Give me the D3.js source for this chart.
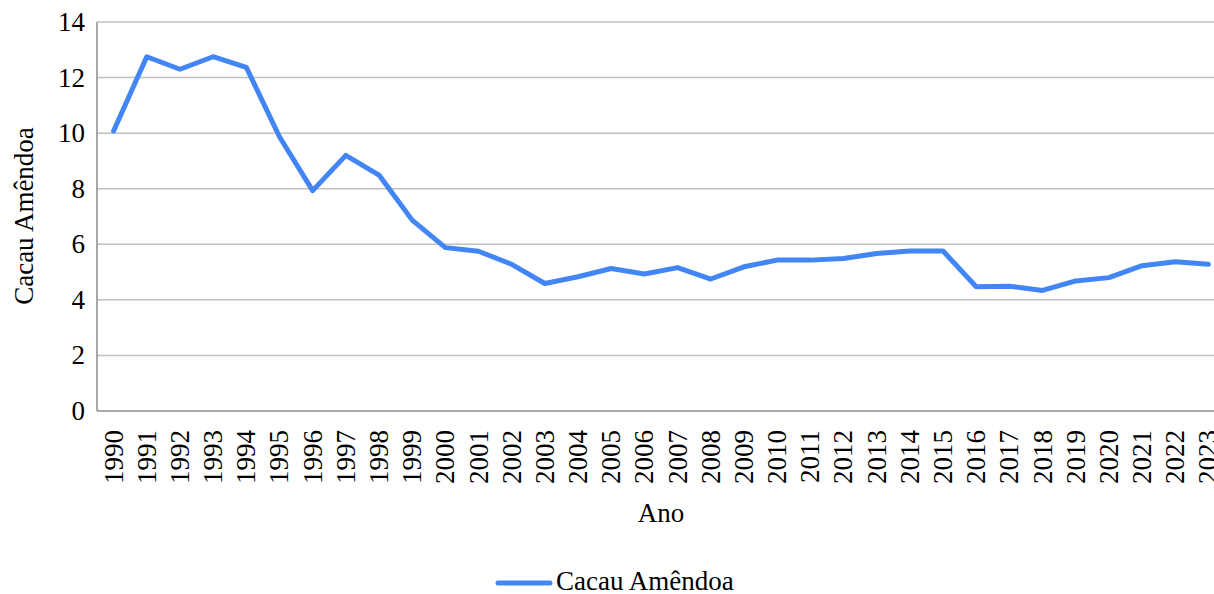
<!DOCTYPE html>
<html>
<head>
<meta charset="utf-8">
<script src="https://cdn.jsdelivr.net/npm/d3@7"></script>
<style>
  html, body { margin: 0; padding: 0; background: #fff; overflow: hidden; }
  svg { display: block; font-family: "Liberation Serif", "DejaVu Serif", serif; }
</style>
</head>
<body>
<svg></svg>
<script>
// Cacau Amêndoa, 1990-2023
const years = ["1990", "1991", "1992", "1993", "1994", "1995", "1996", "1997", "1998", "1999",
  "2000", "2001", "2002", "2003", "2004", "2005", "2006", "2007", "2008", "2009",
  "2010", "2011", "2012", "2013", "2014", "2015", "2016", "2017", "2018", "2019",
  "2020", "2021", "2022", "2023"];

const values = [10.08, 12.75, 12.3, 12.75, 12.37, 9.87, 7.93, 9.2, 8.49, 6.87,
  5.88, 5.75, 5.28, 4.59, 4.83, 5.13, 4.93, 5.16, 4.75, 5.19,
  5.43, 5.43, 5.49, 5.67, 5.76, 5.76, 4.47, 4.49, 4.34, 4.68,
  4.80, 5.23, 5.37, 5.28];

const yTicks = [0, 2, 4, 6, 8, 10, 12, 14];
const seriesName = "Cacau Amêndoa";
const xTitle = "Ano";
const yTitle = "Cacau Amêndoa";

const width = 1214;
const height = 594;
const fontSize = 27;

const svg = d3.select("svg").attr("width", width).attr("height", height);

// plot area (the right side runs past the window, as in the source)
const plotLeft = 97, plotTop = 22, plotBottom = 411;
const bandRight = 1225;

const x = d3.scaleBand().domain(years).range([plotLeft, bandRight]);
const y = d3.scaleLinear().domain([0, 14]).range([plotBottom, plotTop]);

// ---- gridlines ----
svg.append("g")
  .selectAll("line")
  .data(yTicks.filter((d) => d > 0))
  .join("line")
  .attr("x1", plotLeft)
  .attr("x2", width)
  .attr("y1", (d) => y(d))
  .attr("y2", (d) => y(d))
  .attr("stroke", "#c0c0c0")
  .attr("stroke-width", 1.5);

// ---- axes lines ----
svg.append("line")
  .attr("x1", plotLeft).attr("x2", plotLeft)
  .attr("y1", plotTop).attr("y2", plotBottom)
  .attr("stroke", "#8c8c8c").attr("stroke-width", 1.5);

svg.append("line")
  .attr("x1", plotLeft).attr("x2", width)
  .attr("y1", plotBottom).attr("y2", plotBottom)
  .attr("stroke", "#8c8c8c").attr("stroke-width", 1.5);

// ---- y tick labels ----
svg.append("g")
  .selectAll("text")
  .data(yTicks)
  .join("text")
  .attr("x", 85)
  .attr("y", (d) => y(d))
  .attr("text-anchor", "end")
  .attr("dominant-baseline", "central")
  .attr("font-size", fontSize)
  .attr("fill", "#000")
  .text((d) => d);

// ---- x tick labels (rotated) ----
svg.append("g")
  .selectAll("text")
  .data(years)
  .join("text")
  .attr("transform", (d) => `translate(${x(d) + x.bandwidth() / 2},430) rotate(-90)`)
  .attr("text-anchor", "end")
  .attr("dominant-baseline", "central")
  .attr("font-size", fontSize)
  .attr("fill", "#000")
  .text((d) => d);

// ---- axis titles ----
svg.append("text")
  .attr("x", 661)
  .attr("y", 522)
  .attr("text-anchor", "middle")
  .attr("font-size", fontSize)
  .text(xTitle);

svg.append("text")
  .attr("transform", "translate(33,216) rotate(-90)")
  .attr("text-anchor", "middle")
  .attr("font-size", fontSize)
  .text(yTitle);

// ---- line ----
const line = d3.line()
  .x((d, i) => x(years[i]) + x.bandwidth() / 2)
  .y((d) => y(d));

svg.append("path")
  .datum(values)
  .attr("fill", "none")
  .attr("stroke", "#4285f4")
  .attr("stroke-width", 5)
  .attr("stroke-linejoin", "round")
  .attr("stroke-linecap", "round")
  .attr("d", line);

// ---- legend ----
const legend = svg.append("g");
legend.append("line")
  .attr("x1", 498).attr("x2", 550)
  .attr("y1", 583).attr("y2", 583)
  .attr("stroke", "#4285f4")
  .attr("stroke-width", 5)
  .attr("stroke-linecap", "round");
legend.append("text")
  .attr("x", 556)
  .attr("y", 590)
  .attr("font-size", fontSize)
  .text(seriesName);
</script>
</body>
</html>
